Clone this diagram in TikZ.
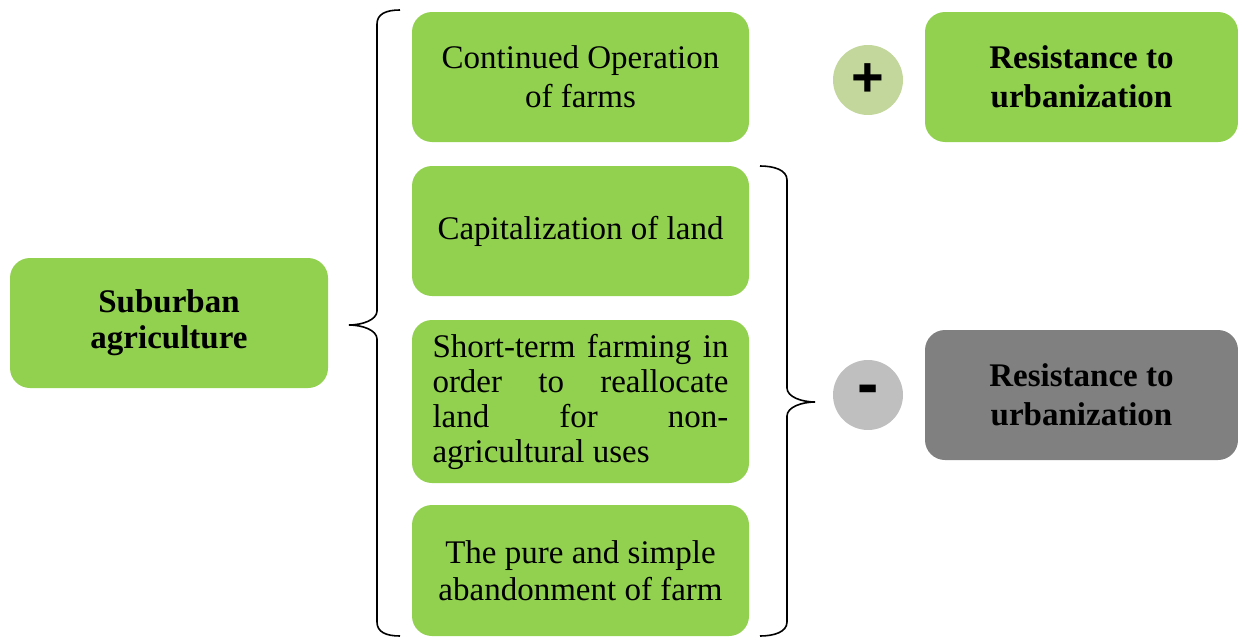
\documentclass[tikz,border=0pt]{standalone}
\usepackage{fontspec}
\setmainfont{Liberation Serif}
\setsansfont{Liberation Sans}
\definecolor{leaf}{HTML}{92D050}
\definecolor{olive}{HTML}{C3D69B}
\definecolor{ash}{HTML}{BFBFBF}
\definecolor{slate}{HTML}{808080}
\def\boxw{168.5pt}
\def\boxh{65pt}
\def\colx{580.5}
\def\resx{1081.5}
\def\signx{868}

\begin{document}
\begin{tikzpicture}[x=0.5pt,y=-0.5pt,
    box/.style={rectangle,rounded corners=10pt,fill=leaf,inner sep=0pt,
        minimum width=\boxw,minimum height=\boxh,align=center,
        font=\fontsize{16.5}{19.5}\selectfont},
    sign/.style={circle,minimum size=35pt,inner sep=0pt,
        font=\sffamily\bfseries\fontsize{28}{28}\selectfont},
    curly/.style={line width=0.8pt}]
    \useasboundingbox (0,0) rectangle (1238,637);

    \node[box,minimum width=159pt,font=\bfseries\fontsize{16.5}{18}\selectfont] (sub) at (169,323) {Suburban\\agriculture};

    \node[box] (oper) at (\colx,77) {Continued Operation\\of farms};
    \node[box] (capi) at (\colx,231) {Capitalization of land};
    \node[box,minimum height=81.5pt,text width=148pt,align=justify,
        font=\fontsize{16.5}{17.5}\selectfont] (short) at (\colx,401.5)
        {Short-term farming in\linebreak order to reallocate\linebreak land for non-\linebreak agricultural uses};
    \node[box,minimum height=65.5pt,font=\fontsize{16.5}{18.5}\selectfont] (aband) at (\colx,570.5)
        {The pure and simple\\abandonment of farm};

    \node[sign,fill=olive] (plus) at (\signx,80) {+};
    \node[sign,fill=ash,font=\sffamily\bfseries\fontsize{32}{32}\selectfont] (minus) at (\signx,395) {\raisebox{-3pt}{-}};

    \node[box,minimum width=156.5pt,font=\bfseries\fontsize{16.5}{19.5}\selectfont] (resplus) at (\resx,77) {Resistance to\\urbanization};
    \node[box,fill=slate,minimum width=156.5pt,font=\bfseries\fontsize{16.5}{19.5}\selectfont] (resminus) at (\resx,395) {Resistance to\\urbanization};

    \draw[curly] (400,10) .. controls (386,10) and (377,14) .. (377,24)
        -- (377,311) .. controls (377,320) and (362,325) .. (349,325)
        .. controls (362,325) and (377,330) .. (377,339)
        -- (377,622) .. controls (377,632) and (386,636) .. (400,636);
    \draw[curly] (760,166) .. controls (774,166) and (787,170) .. (787,180)
        -- (787,388) .. controls (787,397) and (802,402) .. (815,402)
        .. controls (802,402) and (787,407) .. (787,416)
        -- (787,622) .. controls (787,632) and (774,636) .. (760,636);
\end{tikzpicture}
\end{document}
